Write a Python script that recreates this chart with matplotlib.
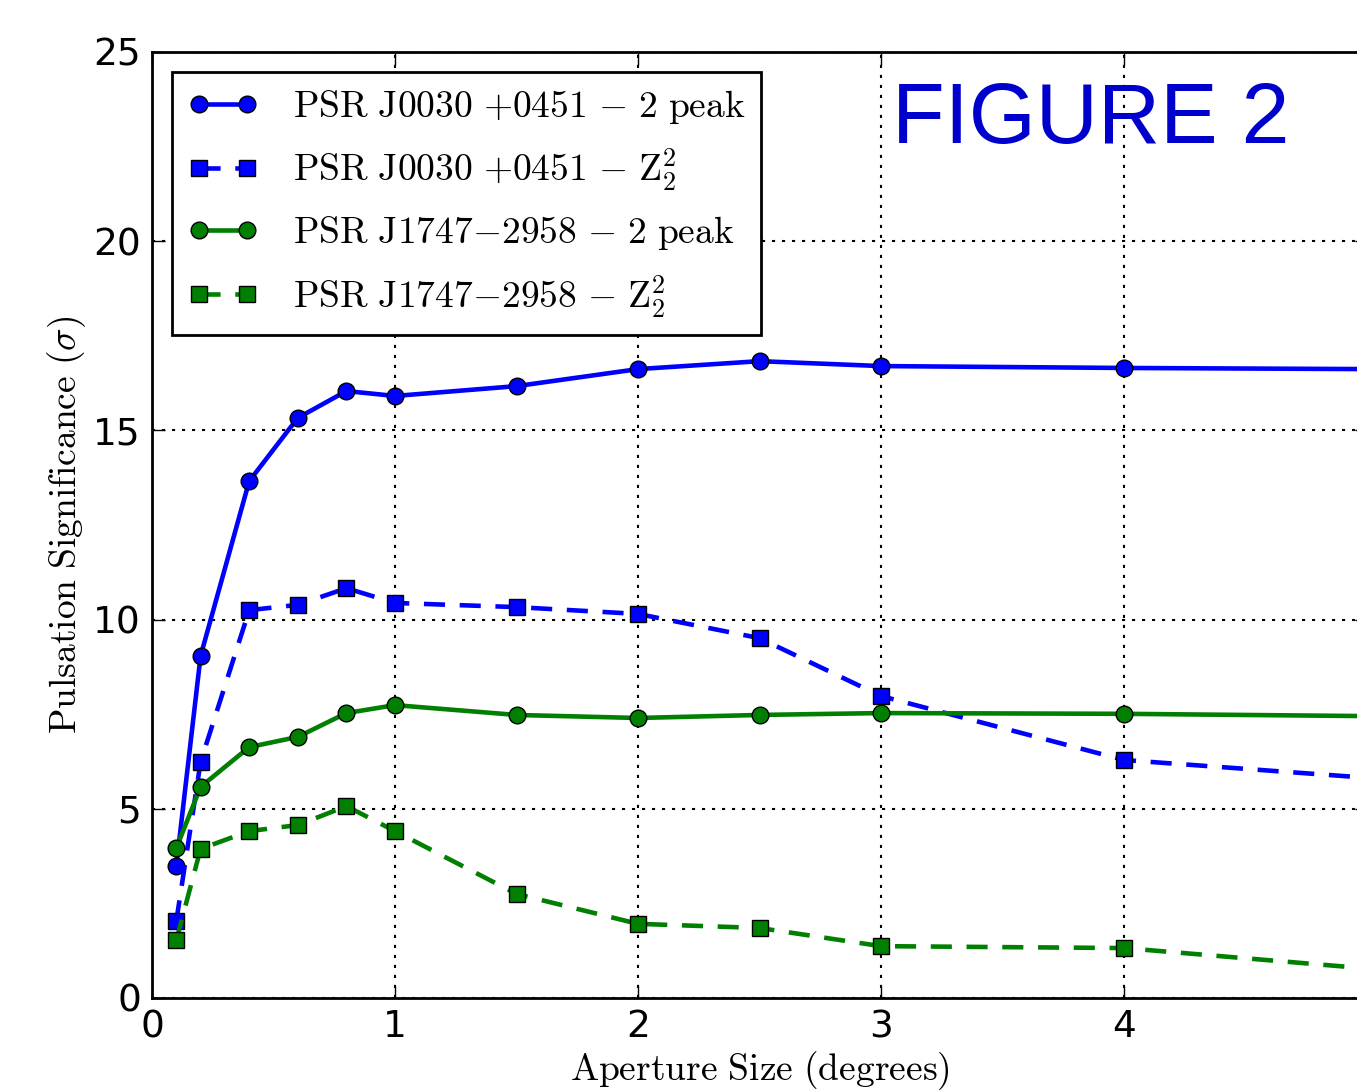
import matplotlib
matplotlib.use("Agg")
import matplotlib.pyplot as plt

# ---------------------------------------------------------------------------
# Data (aperture radius in degrees vs. significance)
# ---------------------------------------------------------------------------
aperture = [0.1, 0.2, 0.4, 0.6, 0.8, 1.0, 1.5, 2.0, 2.5, 3.0, 4.0, 5.0]

j0030_2peak = [3.49, 9.04, 13.66, 15.33, 16.04, 15.91, 16.17, 16.62, 16.83, 16.70, 16.65, 16.62]
j0030_z2 = [2.03, 6.24, 10.25, 10.39, 10.83, 10.44, 10.33, 10.15, 9.51, 7.98, 6.29, 5.82]
j1747_2peak = [3.96, 5.58, 6.63, 6.90, 7.53, 7.74, 7.48, 7.40, 7.48, 7.53, 7.51, 7.45]
j1747_z2 = [1.53, 3.94, 4.41, 4.57, 5.07, 4.41, 2.75, 1.96, 1.85, 1.37, 1.32, 0.78]

labels = [
    r"$\mathrm{PSR\ J0030\ {+}0451\ {-}\ 2\ peak}$",
    r"$\mathrm{PSR\ J0030\ {+}0451\ {-}\ Z_2^2}$",
    r"$\mathrm{PSR\ J1747{-}2958\ {-}\ 2\ peak}$",
    r"$\mathrm{PSR\ J1747{-}2958\ {-}\ Z_2^2}$",
]
x_ticks = [0, 1, 2, 3, 4, 5]
y_ticks = [0, 5, 10, 15, 20, 25]

plt.rcParams["mathtext.fontset"] = "cm"
plt.rcParams["font.family"] = "DejaVu Sans"

W, H = 1357, 1092
fig = plt.figure(figsize=(W / 100, H / 100), dpi=100)
# the original is cropped just left of x=5, so the axes run off the right edge
ax = fig.add_axes([152 / W, 94 / H, 1215 / W, 946 / H])

dash = (4.6, 3.2)
style = dict(linewidth=3.3, markersize=12, markeredgecolor="black", markeredgewidth=1)
ax.plot(aperture, j0030_2peak, "-o", color="#0000ff", label=labels[0], **style)
ax.plot(aperture, j0030_z2, "--s", color="#0000ff", dashes=dash, label=labels[1], **style)
ax.plot(aperture, j1747_2peak, "-o", color="#007f00", label=labels[2], **style)
ax.plot(aperture, j1747_z2, "--s", color="#007f00", dashes=dash, label=labels[3], **style)

ax.set_xlim(0, 5)
ax.set_ylim(0, 25)
ax.set_xticks(x_ticks)
ax.set_yticks(y_ticks)
ax.tick_params(direction="in", length=9, width=1, labelsize=27, pad=8,
               top=True, right=True)
for sp in ax.spines.values():
    sp.set_linewidth(2)
ax.grid(True, color="black", linestyle=(0, (1.5, 3.3)), linewidth=1.5)

ax.set_xlabel(r"$\mathrm{Aperture\ Size\ (degrees)}$", fontsize=27, labelpad=3)
ax.set_ylabel(r"$\mathrm{Pulsation\ Significance\ (}\sigma\mathrm{)}$", fontsize=27, labelpad=4)

leg = ax.legend(loc="upper left", bbox_to_anchor=(20 / 1215, 1 - 20 / 946),
                borderaxespad=0, fontsize=27, numpoints=2, handlelength=1.87,
                handletextpad=0.93, borderpad=0.42, labelspacing=0.55,
                fancybox=False, framealpha=1)
leg.get_frame().set_edgecolor("black")
leg.get_frame().set_linewidth(2)

fig.text(892 / W, 1 - 143 / H, "FIGURE 2", fontsize=62, color="#0000cc",
         family="Liberation Sans", va="baseline", ha="left")

fig.savefig("out.png", dpi=100)
